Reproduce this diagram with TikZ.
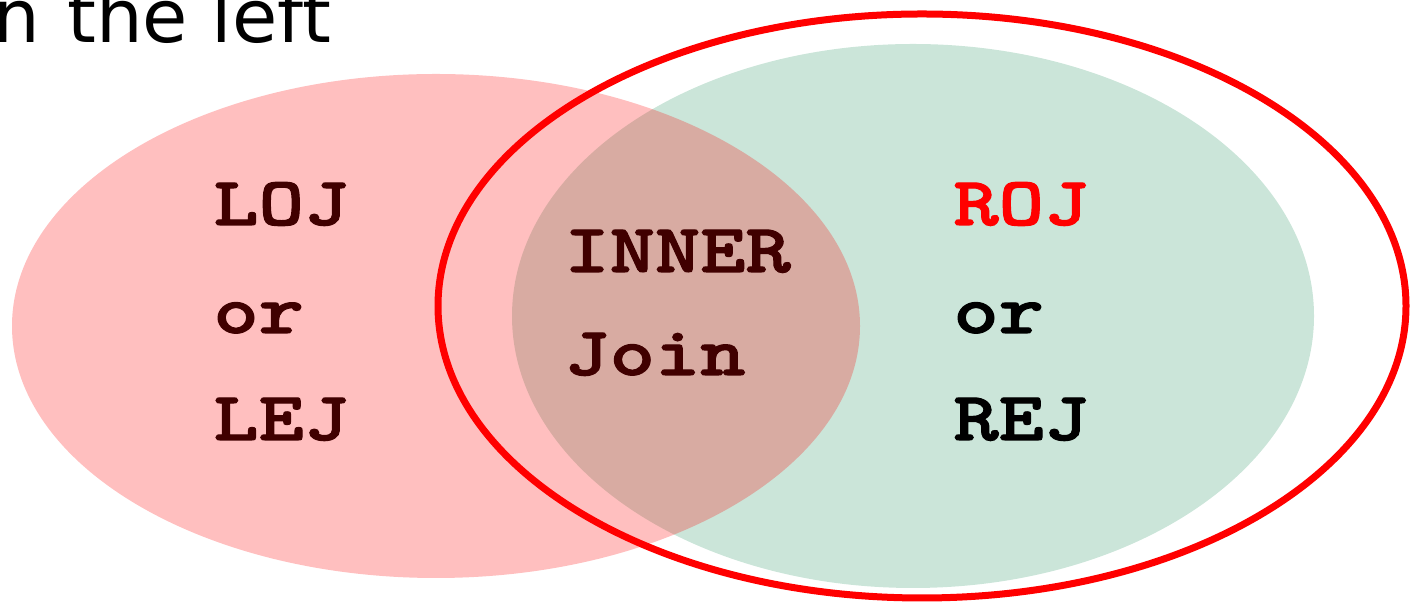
\documentclass[tikz,border=0pt]{standalone}
\usepackage{fontspec}
\setmainfont{DejaVu Sans}
\newfontfamily\codefont{lmmonolt10-bold}[Extension=.otf,FakeBold=1.6,FakeStretch=1.25]
\usepackage{xcolor}
\usepackage{tikz}
\usetikzlibrary{positioning}
\definecolor{rightgreen}{RGB}{203,229,217}
\definecolor{joinbrown}{RGB}{64,0,0}

\begin{document}
\begin{tikzpicture}[x=0.5pt,y=0.5pt,
   lbl/.style={anchor=base west,inner sep=0pt,font=\codefont\fontsize{34.5}{36}\selectfont}]
  \useasboundingbox (0,0) rectangle (1414,603);
  % the two tables
  \fill[rightgreen] (913,287) ellipse [x radius=401,y radius=272];
  \fill[red,fill opacity=0.25] (436,277) ellipse [x radius=424,y radius=252];
  \draw[red,line width=3.5pt] (922,297) ellipse [x radius=484,y radius=292];
  % heading, cut at the top
  \node[anchor=base west,inner sep=0pt,font=\fontsize{36.8}{37}\selectfont] (head) at (-7,560) {n\hspace{13.7pt}the left};
  % left side
  \node[lbl,text=joinbrown] (loj) at (213,378) {LOJ};
  \node[lbl,text=joinbrown] (lor) at (213,270) {or};
  \node[lbl,text=joinbrown] (lej) at (213,163) {LEJ};
  % middle
  \node[lbl,text=joinbrown] (inner) at (564,331) {INNER};
  \node[lbl,text=joinbrown] (join) at (564,228) {Join};
  % right side
  \node[lbl,text=red] (roj) at (953,378) {ROJ};
  \node[lbl] (ror) at (953,270) {or};
  \node[lbl] (rej) at (953,163) {REJ};
\end{tikzpicture}
\end{document}
